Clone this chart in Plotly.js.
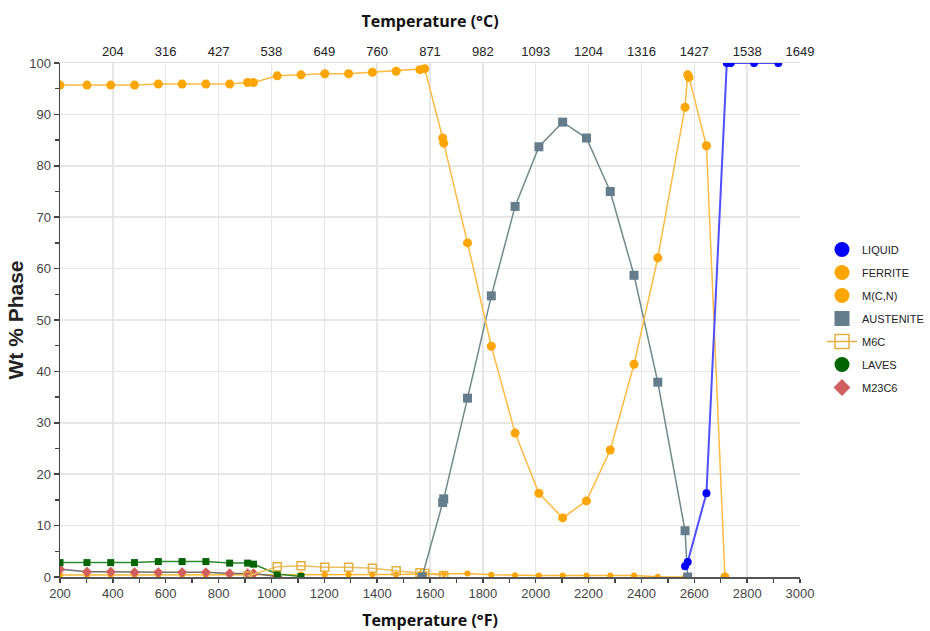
<!DOCTYPE html>
<html>
<head>
<meta charset="utf-8">
<script src="https://cdn.plot.ly/plotly-3.0.1.min.js"></script>
<style>html,body{margin:0;padding:0;background:#fff;}#chart{width:930px;height:631px;}</style>
</head>
<body>
<div id="chart"></div>
<script>
// ---- data (°F, wt %) ----
const ferriteT = [200, 302, 392, 482, 572, 662, 752, 842, 910, 932, 1022, 1112, 1202, 1292, 1382, 1472, 1562, 1580, 1648, 1652, 1742, 1832, 1922, 2012, 2102, 2192, 2282, 2372, 2462, 2565, 2575, 2580, 2646, 2716];
const ferriteW = [95.7, 95.7, 95.7, 95.7, 95.9, 95.9, 95.9, 95.9, 96.2, 96.2, 97.5, 97.7, 97.9, 97.9, 98.2, 98.4, 98.7, 98.9, 85.4, 84.4, 65.0, 44.9, 28.0, 16.3, 11.5, 14.8, 24.7, 41.4, 62.1, 91.4, 97.7, 97.2, 83.9, 0];

const mcnT = [200, 302, 392, 482, 572, 662, 752, 842, 910, 932, 1022, 1112, 1202, 1292, 1382, 1472, 1562, 1580, 1652, 1742, 1832, 1922, 2012, 2102, 2192, 2282, 2372, 2462, 2565];
const mcnW = [0.4, 0.4, 0.4, 0.4, 0.4, 0.4, 0.4, 0.4, 0.4, 0.4, 0.5, 0.5, 0.5, 0.5, 0.5, 0.5, 0.6, 0.6, 0.6, 0.7, 0.45, 0.35, 0.3, 0.3, 0.3, 0.3, 0.3, 0.05, 0];

const austT = [1570, 1648, 1652, 1742, 1832, 1922, 2012, 2102, 2192, 2282, 2372, 2462, 2565, 2575];
const austW = [0, 14.5, 15.2, 34.8, 54.7, 72.1, 83.7, 88.5, 85.4, 75.0, 58.7, 37.9, 9.0, 0];

const liquidT = [2565, 2575, 2646, 2723, 2738, 2826, 2918];
const liquidW = [2.1, 2.9, 16.3, 100, 100, 100, 100];

const m6cT = [910, 1022, 1112, 1202, 1292, 1382, 1472, 1562, 1580, 1652];
const m6cW = [0.2, 2.0, 2.2, 1.9, 1.9, 1.7, 1.2, 0.85, 0.7, 0.3];

const lavesT = [200, 302, 392, 482, 572, 662, 752, 842, 910, 932, 1022, 1112];
const lavesW = [2.8, 2.8, 2.8, 2.8, 3.0, 3.0, 3.0, 2.7, 2.7, 2.5, 0.6, 0.1];

const m23T = [200, 302, 392, 482, 572, 662, 752, 842, 910, 932, 1022];
const m23W = [1.5, 1.0, 1.0, 0.9, 0.9, 0.9, 0.9, 0.7, 0.7, 0.7, 0.1];

const fTicks = [400, 600, 800, 1000, 1200, 1400, 1600, 1800, 2000, 2200, 2400, 2600, 2800, 3000];
const cLabels = ['204', '316', '427', '538', '649', '760', '871', '982', '1093', '1204', '1316', '1427', '1538', '1649'];

const legendNames = ['LIQUID', 'FERRITE', 'M(C,N)', 'AUSTENITE', 'M6C', 'LAVES', 'M23C6'];

// ---- traces ----
const traces = [
  {x: mcnT, y: mcnW, mode: 'lines+markers', line: {color: '#ffb733', width: 1.5}, marker: {color: '#ffa500', size: 6, symbol: 'circle'}, showlegend: false},
  {x: m23T, y: m23W, mode: 'lines+markers', line: {color: '#6e6e6e', width: 1.5}, marker: {color: '#d0605e', size: 8, symbol: 'diamond'}, showlegend: false},
  {x: lavesT, y: lavesW, mode: 'lines+markers', line: {color: '#2e8b2e', width: 1.5}, marker: {color: '#006400', size: 7, symbol: 'square'}, showlegend: false},
  {x: m6cT, y: m6cW, mode: 'lines+markers', line: {color: '#eac060', width: 1.5}, marker: {color: '#e2b040', size: 8, symbol: 'square-open', line: {width: 1.5}}, showlegend: false},
  {x: austT, y: austW, mode: 'lines+markers', line: {color: '#6f8a8c', width: 1.5}, marker: {color: '#647c8c', size: 9, symbol: 'square'}, showlegend: false},
  {x: ferriteT, y: ferriteW, mode: 'lines+markers', line: {color: '#ffbb44', width: 1.5}, marker: {color: '#ffa500', size: 9, symbol: 'circle'}, showlegend: false},
  {x: liquidT, y: liquidW, mode: 'lines+markers', line: {color: '#4f4fff', width: 2}, marker: {color: '#0000ff', size: 8, symbol: 'circle'}, showlegend: false}
];

const legendStyles = [
  {mode: 'markers', marker: {color: '#0000ff', size: 15, symbol: 'circle'}},
  {mode: 'markers', marker: {color: '#ffa500', size: 15, symbol: 'circle'}},
  {mode: 'markers', marker: {color: '#ffa500', size: 15, symbol: 'circle'}},
  {mode: 'markers', marker: {color: '#647c8c', size: 15, symbol: 'square'}},
  {mode: 'lines+markers', line: {color: '#e2b040', width: 1.5}, marker: {color: '#e2b040', size: 14, symbol: 'square-open', line: {width: 1.5}}},
  {mode: 'markers', marker: {color: '#006400', size: 15, symbol: 'circle'}},
  {mode: 'markers', marker: {color: '#d0605e', size: 13, symbol: 'diamond'}}
];
legendNames.forEach(function (n, i) {
  traces.push(Object.assign({x: [null], y: [null], name: n, legendgroup: 'g' + i, xaxis: 'x2', hoverinfo: 'skip'}, legendStyles[i]));
});

const tickFont = {family: 'Liberation Sans, Arial, sans-serif', size: 13, color: '#444'};

const layout = {
  width: 930, height: 631,
  margin: {l: 60, r: 130, t: 63, b: 54, autoexpand: false},
  paper_bgcolor: '#fff', plot_bgcolor: '#fff',
  showlegend: true,
  legend: {xref: 'container', yref: 'container', x: 822 / 930, xanchor: 'left', y: 1 - 235 / 631, yanchor: 'top',
    font: {family: 'Liberation Sans, Arial, sans-serif', size: 11, color: '#222'},
    itemsizing: 'trace', tracegroupgap: 4, bgcolor: 'rgba(0,0,0,0)', itemwidth: 30},
  xaxis: {
    range: [200, 3000], dtick: 200, tick0: 200,
    showgrid: true, gridcolor: '#e6e6e6', gridwidth: 1.5,
    showline: true, linecolor: '#555', linewidth: 1.5,
    ticks: 'outside', ticklen: 4, tickcolor: '#444', tickwidth: 1.5,
    minor: {dtick: 100, ticks: 'outside', ticklen: 4, tickcolor: '#444', showgrid: false},
    zeroline: false, tickfont: tickFont,
    title: {text: '<b>Temperature (°F)</b>', font: {family: 'Open Sans, sans-serif', size: 16, color: '#111'}, standoff: 14}
  },
  xaxis2: {
    range: [200, 3000], overlaying: 'x', side: 'top', anchor: 'y',
    tickmode: 'array', tickvals: fTicks, ticktext: cLabels,
    showgrid: false, showline: true, linecolor: '#e0e0e0', linewidth: 1.5, ticks: '', zeroline: false,
    tickfont: {family: 'Liberation Sans, Arial, sans-serif', size: 13, color: '#222'},
    title: {text: '<b>Temperature (°C)</b>', font: {family: 'Open Sans, sans-serif', size: 16, color: '#111'}, standoff: 12}
  },
  yaxis: {
    range: [0, 100], dtick: 10,
    showgrid: true, gridcolor: '#e6e6e6', gridwidth: 1.5,
    showline: true, linecolor: '#444', linewidth: 1.5,
    ticks: 'outside', ticklen: 5, tickcolor: '#444', tickwidth: 1.5,
    minor: {dtick: 5, ticks: 'outside', ticklen: 4, tickcolor: '#444', showgrid: false},
    zeroline: false, tickfont: tickFont,
    title: {text: '<b>Wt % Phase</b>', font: {family: 'Liberation Sans, Arial, sans-serif', size: 21, color: '#222'}, standoff: 0}
  }
};

Plotly.newPlot('chart', traces, layout, {displayModeBar: false, staticPlot: true});
</script>
</body>
</html>
